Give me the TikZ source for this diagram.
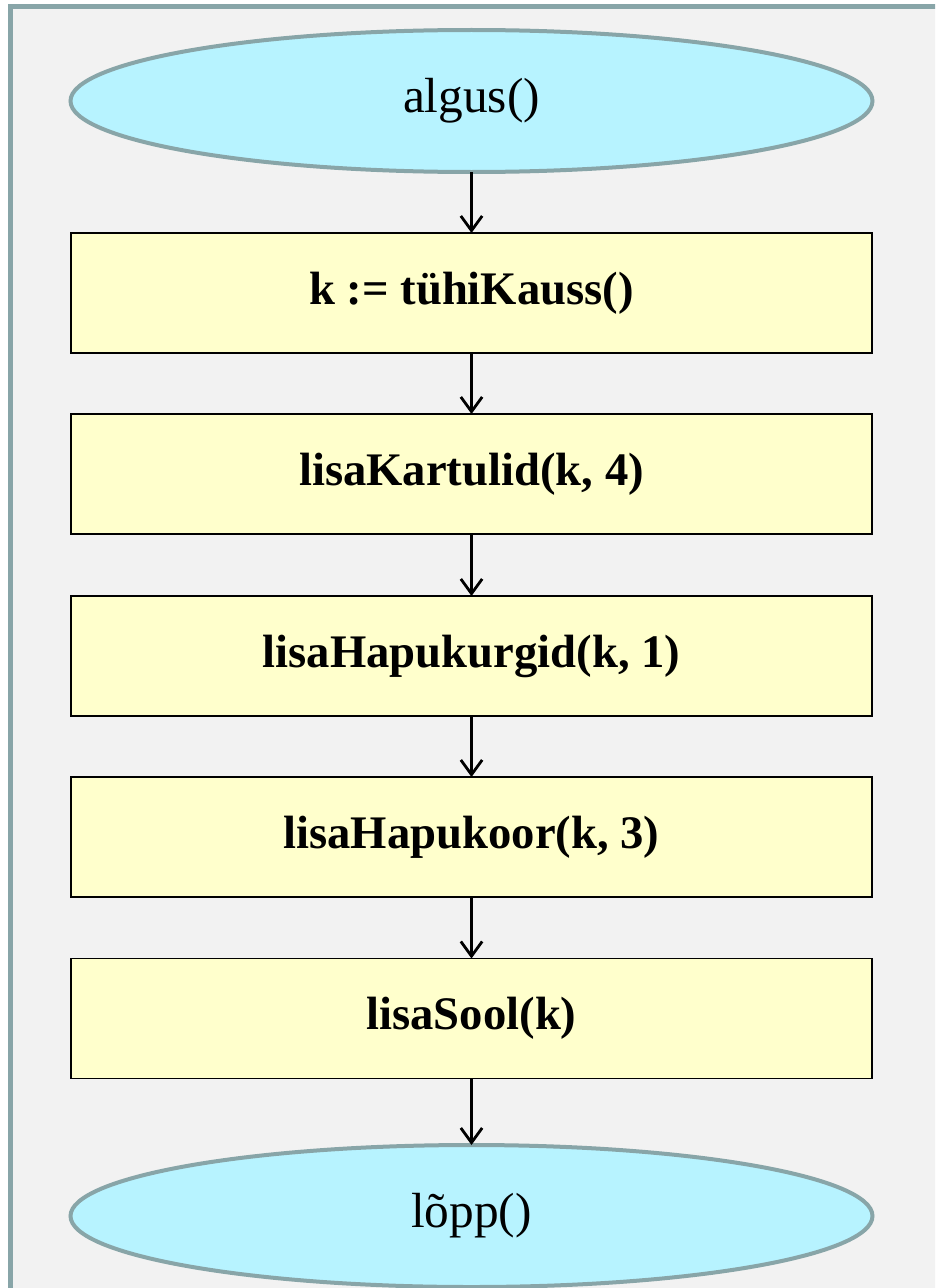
\documentclass[tikz,border=0pt]{standalone}
\usepackage{fontspec}
\setmainfont{Liberation Serif}
\usetikzlibrary{shapes.geometric,arrows.meta}

\definecolor{framegray}{HTML}{88A5A8}
\definecolor{panelbg}{HTML}{F2F2F2}
\definecolor{termfill}{HTML}{B7F3FF}
\definecolor{stepfill}{HTML}{FFFFCC}

\tikzset{
  terminal/.style={ellipse, draw=framegray, line width=3pt, fill=termfill,
    minimum width=601.5pt, minimum height=106.5pt, inner sep=0pt, outer sep=0pt,
    font=\fontsize{37}{44}\selectfont},
  stepbox/.style={rectangle, draw=black, line width=1.4pt, fill=stepfill,
    minimum width=600.75pt, minimum height=90pt, inner sep=0pt, outer sep=0pt,
    font=\fontsize{35}{42}\selectfont\bfseries},
  flow/.style={line width=2.1pt, -{Straight Barb[length=11pt, width=16pt, line width=2.1pt]}}
}

\begin{document}
\begin{tikzpicture}[x=0.75pt, y=-0.75pt]
  \useasboundingbox (0,0) rectangle (935,1288);
  \clip (0,0) rectangle (935,1288);

  % panel with its border running off the right and bottom edges
  \draw[framegray, line width=3.75pt, fill=panelbg] (10.5,6.5) rectangle (960,1310);

  \node[terminal] (start) at (471.5,101) {algus()};
  \node[stepbox]  (s1) at (471.5,293)  {k := tühiKauss()};
  \node[stepbox]  (s2) at (471.5,474)  {lisaKartulid(k, 4)};
  \node[stepbox]  (s3) at (471.5,656)  {lisaHapukurgid(k, 1)};
  \node[stepbox]  (s4) at (471.5,837)  {lisaHapukoor(k, 3)};
  \node[stepbox]  (s5) at (471.5,1018.5) {lisaSool(k)};
  \node[terminal] (stop) at (471.5,1216) {lõpp()};

  \draw[flow] (start.south) -- (s1.north);
  \draw[flow] (s1.south) -- (s2.north);
  \draw[flow] (s2.south) -- (s3.north);
  \draw[flow] (s3.south) -- (s4.north);
  \draw[flow] (s4.south) -- (s5.north);
  \draw[flow] (s5.south) -- (stop.north);
\end{tikzpicture}
\end{document}
